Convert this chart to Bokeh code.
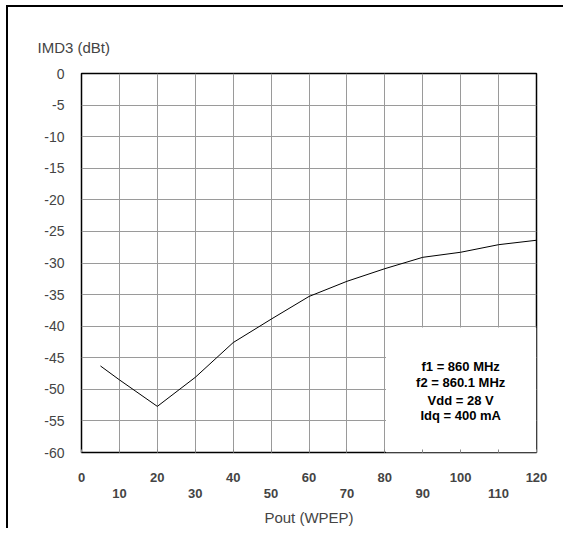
from bokeh.plotting import figure
from bokeh.models import Range1d, FixedTicker, LinearAxis, Column, Grid
from bokeh.core.properties import value
from bokeh.embed import file_html
from bokeh.resources import INLINE

# Data
pout = [5, 10, 20, 30, 40, 50, 60, 70, 80, 90, 100, 110, 120]
imd3 = [-46.3, -48.5, -52.7, -48.1, -42.6, -38.9, -35.3, -32.9, -30.9, -29.1, -28.3, -27.1, -26.4]

x_ticks_all = list(range(0, 121, 10))
x_ticks_odd = list(range(10, 121, 20))
y_ticks = list(range(-60, 1, 5))
note_lines = ["f1 = 860 MHz", "f2 = 860.1 MHz", "Vdd = 28 V", "Idq = 400 mA"]
note_y = [-46.4, -48.9, -51.7, -54.2]
note_box = dict(left=80.3, right=120, bottom=-60, top=-40.2)

FONT = "Liberation Sans"
GRID = "#9a9a9a"

p = figure(width=555, height=521, output_backend="svg", toolbar_location=None,
           x_range=Range1d(0, 120), y_range=Range1d(-60, 0),
           min_border_left=73, min_border_right=27, min_border_top=66,
           min_border_bottom=76, x_axis_type=None)

p.title.text = "IMD3 (dBt)"
p.title.text_font = FONT
p.title.text_font_size = "15px"
p.title.text_font_style = "normal"
p.title.align = "left"
p.title.offset = -44
p.title.standoff = 35

# x axis: two label rows
ax1 = LinearAxis(ticker=FixedTicker(ticks=x_ticks_all))
ax1.major_label_overrides = {t: ("" if t % 20 else str(t)) for t in x_ticks_all}
ax1.major_label_text_font = FONT
ax1.major_label_text_font_size = "13px"
ax1.major_label_text_font_style = "bold"
ax1.major_label_standoff = 20
ax1.major_tick_in = 3
ax1.major_tick_out = 0
ax1.major_tick_line_color = "#888888"
ax1.minor_tick_line_color = None
ax1.axis_line_color = None
p.add_layout(ax1, "below")

ax2 = LinearAxis(ticker=FixedTicker(ticks=x_ticks_odd))
ax2.major_label_overrides = {t: str(t) for t in x_ticks_odd}
ax2.major_label_text_font = FONT
ax2.major_label_text_font_size = "13px"
ax2.major_label_text_font_style = "bold"
ax2.major_label_standoff = -2
ax2.major_tick_line_color = None
ax2.minor_tick_line_color = None
ax2.axis_line_color = None
ax2.axis_label = "Pout (WPEP)"
ax2.axis_label_text_font = FONT
ax2.axis_label_text_font_size = "15px"
ax2.axis_label_text_font_style = "normal"
ax2.axis_label_standoff = 8
p.add_layout(ax2, "below")

p.yaxis.ticker = FixedTicker(ticks=y_ticks)
p.yaxis.major_label_overrides = {t: str(t) for t in y_ticks}
p.yaxis.major_label_text_font = FONT
p.yaxis.major_label_text_font_size = "14px"
p.yaxis.major_label_standoff = 17
p.yaxis.major_tick_in = 0
p.yaxis.major_tick_out = 0
p.yaxis.minor_tick_line_color = None
p.yaxis.axis_line_color = None

p.add_layout(Grid(dimension=0, ticker=FixedTicker(ticks=x_ticks_all),
                  grid_line_color=GRID, grid_line_width=1))
p.ygrid.ticker = FixedTicker(ticks=y_ticks)
p.ygrid.grid_line_color = GRID
p.ygrid.grid_line_width = 1

p.outline_line_color = "black"
p.outline_line_width = 1.5
p.outline_line_alpha = 1

p.quad(left=[note_box["left"]], right=[note_box["right"]],
       bottom=[note_box["bottom"]], top=[note_box["top"]],
       fill_color="white", line_color=None)

p.line(pout, imd3, line_color="black", line_width=1)

p.text(x=[100] * 4, y=note_y, text=note_lines,
       text_font=value(FONT), text_font_size="13px", text_font_style="bold",
       text_align="center", text_baseline="middle", text_color="black")

inner = Column(children=[p], styles={"border-left": "2px solid black",
                                     "border-top": "2px solid black"})
outer = Column(children=[inner], styles={"padding-left": "6px", "padding-top": "5px"})

open("out.html", "w").write(file_html(outer, INLINE))
